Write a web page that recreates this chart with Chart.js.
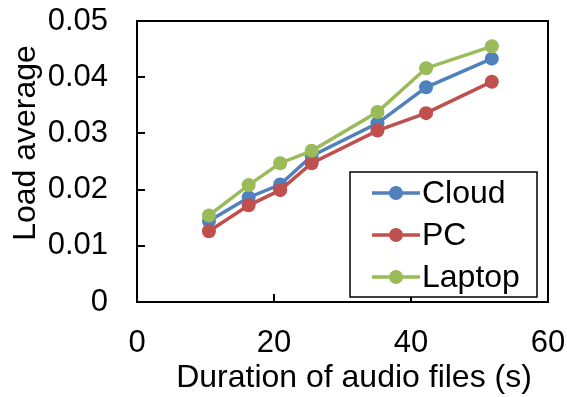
<!DOCTYPE html>
<html lang="en">
<head>
<meta charset="UTF-8">
<title>Load average vs duration</title>
<style>
  html, body { margin: 0; padding: 0; background: #fff; }
  #chart { display: block; }
</style>
</head>
<body>
<canvas id="chart" width="567" height="397"></canvas>
<script src="https://cdn.jsdelivr.net/npm/chart.js@4/dist/chart.umd.min.js"></script>
<script>
// data
let durations = [10.5, 16.3, 20.9, 25.5, 35.1, 42.2, 51.8];
let cloud = [0.0144, 0.0186, 0.0209, 0.0260, 0.0318, 0.0382, 0.0433];
let pc = [0.0126, 0.0172, 0.0199, 0.0247, 0.0305, 0.0336, 0.0392];
let laptop = [0.0154, 0.0208, 0.0247, 0.0269, 0.0338, 0.0416, 0.0455];
let xTicks = [0, 20, 40, 60];
let yTicks = [0, 0.01, 0.02, 0.03, 0.04, 0.05];
let xTitle = 'Duration of audio files (s)';
let yTitle = 'Load average';

const FONT = '"Liberation Sans", Arial, sans-serif';

function pts(ys) {
    return durations.map(function (d, i) { return { x: d, y: ys[i] }; });
}

function series(label, ys, color, order) {
    return {
        label: label,
        data: pts(ys),
        borderColor: color,
        backgroundColor: color,
        borderWidth: 3.5,
        pointRadius: 7,
        pointBorderWidth: 0,
        pointBackgroundColor: color,
        fill: false,
        tension: 0,
        order: order
    };
}

// frame, inward ticks, axis titles and legend box
const extras = {
    id: 'extras',
    afterDraw: function (chart) {
        const ctx = chart.ctx;
        const a = chart.chartArea;
        const xs = chart.scales.x, ys = chart.scales.y;
        ctx.save();
        ctx.strokeStyle = '#000';
        ctx.lineWidth = 2;
        ctx.strokeRect(a.left, a.top, a.right - a.left, a.bottom - a.top);

        ctx.beginPath();
        xTicks.forEach(function (v) {
            const px = Math.round(xs.getPixelForValue(v));
            ctx.moveTo(px, a.bottom);
            ctx.lineTo(px, a.bottom - 8);
        });
        yTicks.forEach(function (v) {
            const py = Math.round(ys.getPixelForValue(v));
            ctx.moveTo(a.left, py);
            ctx.lineTo(a.left + 8, py);
        });
        ctx.stroke();

        ctx.fillStyle = '#000';
        ctx.font = '32px ' + FONT;
        ctx.textBaseline = 'alphabetic';
        ctx.textAlign = 'center';
        ctx.fillText(xTitle, 354, 387);

        ctx.save();
        ctx.translate(35, 143);
        ctx.rotate(-Math.PI / 2);
        ctx.fillText(yTitle, 0, 0);
        ctx.restore();

        // legend
        const bx = a.right - 11 - 187, by = a.bottom - 5 - 125;
        ctx.fillStyle = '#fff';
        ctx.fillRect(bx, by, 187, 125);
        ctx.lineWidth = 1.5;
        ctx.strokeRect(bx, by, 187, 125);
        ctx.textAlign = 'left';
        ctx.textBaseline = 'middle';
        chart.data.datasets.forEach(function (ds, i) {
            const cy = by + 21 + i * 42;
            ctx.strokeStyle = ds.borderColor;
            ctx.lineWidth = 3.5;
            ctx.beginPath();
            ctx.moveTo(bx + 22, cy);
            ctx.lineTo(bx + 70, cy);
            ctx.stroke();
            ctx.fillStyle = ds.borderColor;
            ctx.beginPath();
            ctx.arc(bx + 46, cy, 7, 0, Math.PI * 2);
            ctx.fill();
            ctx.fillStyle = '#000';
            ctx.fillText(ds.label, bx + 72, cy + 1);
        });
        ctx.restore();
    }
};

new Chart(document.getElementById('chart'), {
    type: 'line',
    data: {
        datasets: [
            series('Cloud', cloud, '#4F81BD', 3),
            series('PC', pc, '#C0504D', 2),
            series('Laptop', laptop, '#9BBB59', 1)
        ]
    },
    options: {
        responsive: false,
        animation: false,
        layout: { padding: { left: 0, top: 21, right: 19, bottom: 0 } },
        plugins: {
            legend: { display: false },
            tooltip: { enabled: false }
        },
        scales: {
            x: {
                type: 'linear',
                min: 0,
                max: 60,
                afterBuildTicks: function (s) { s.ticks = xTicks.map(function (v) { return { value: v }; }); },
                afterFit: function (s) {
                    s.height = 95;
                    s.paddingLeft = 0;
                    s.paddingRight = 0;
                },
                grid: { display: false, drawTicks: false },
                border: { display: false },
                ticks: {
                    padding: 23,
                    color: '#000',
                    font: { family: FONT, size: 31 },
                    maxRotation: 0,
                    autoSkip: false
                }
            },
            y: {
                type: 'linear',
                min: 0,
                max: 0.05,
                afterBuildTicks: function (s) { s.ticks = yTicks.map(function (v) { return { value: v }; }); },
                afterFit: function (s) {
                    s.width = 137;
                    s.paddingTop = 0;
                    s.paddingBottom = 0;
                },
                grid: { display: false, drawTicks: false },
                border: { display: false },
                ticks: {
                    padding: 29,
                    color: '#000',
                    font: { family: FONT, size: 31 },
                    callback: function (v) { return v === 0 ? '0' : v.toFixed(2); }
                }
            }
        }
    },
    plugins: [extras]
});
</script>
</body>
</html>
